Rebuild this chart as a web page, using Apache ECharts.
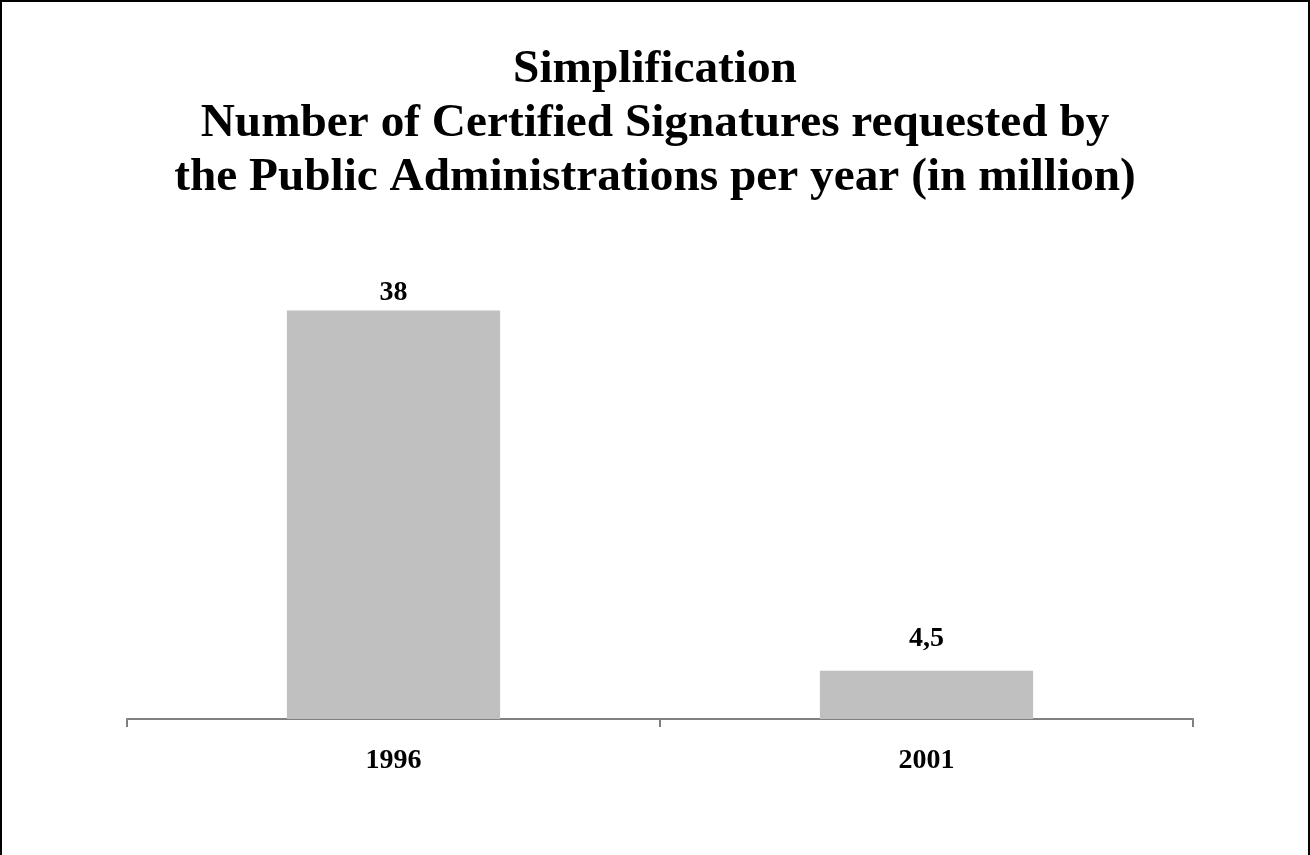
<!DOCTYPE html>
<html>
<head>
<meta charset="utf-8">
<style>
  html, body { margin: 0; padding: 0; background: #fff; }
  #frame {
    position: absolute; left: 0; top: 0; width: 1310px; height: 855px;
    box-sizing: border-box; border: 2px solid #000; border-bottom: none;
  }
  #chart { position: absolute; left: 0; top: 0; width: 1310px; height: 855px; }
</style>
<script src="https://cdn.jsdelivr.net/npm/echarts@6/dist/echarts.min.js"></script>
</head>
<body>
<div id="chart"></div>
<div id="frame"></div>
<script>
// Certified signatures requested by the public administrations (million per year)
const titleLines = [
  'Simplification',
  'Number of Certified Signatures requested by',
  'the Public Administrations per year (in million)'
];
const years = ['1996', '2001'];
const signatures = [38, 4.5];
const valueLabels = ['38', '4,5'];

// gap between each bar top and its value label
const labelGaps = [4, 18];

const serif = '"Liberation Serif", "Times New Roman", Times, serif';
const chart = echarts.init(document.getElementById('chart'), null, { renderer: 'canvas' });

const barData = signatures.map((v, i) => ({
  value: v,
  label: { distance: labelGaps[i] }
}));

chart.setOption({
  backgroundColor: '#ffffff',
  animation: false,
  title: {
    text: titleLines.join('\n'),
    left: 'center',
    top: 38,
    textStyle: {
      fontFamily: serif,
      fontWeight: 'bold',
      fontSize: 47.3,
      lineHeight: 54,
      color: '#000'
    }
  },
  grid: { left: 127, right: 117, top: 289, bottom: 136 },
  xAxis: {
    type: 'category',
    data: years,
    boundaryGap: true,
    axisLine: { lineStyle: { color: '#808080', width: 2 } },
    axisTick: { show: true, length: 8, lineStyle: { color: '#808080', width: 2 } },
    axisLabel: {
      margin: 28,
      fontFamily: serif,
      fontWeight: 'bold',
      fontSize: 28,
      color: '#000'
    }
  },
  yAxis: {
    type: 'value',
    min: 0,
    max: 40,
    show: false,
    splitLine: { show: false }
  },
  series: [{
    type: 'bar',
    data: barData,
    barWidth: '40%',
    itemStyle: { color: '#c0c0c0' },
    label: {
      show: true,
      position: 'top',
      formatter: p => valueLabels[p.dataIndex],
      fontFamily: serif,
      fontWeight: 'bold',
      fontSize: 28,
      color: '#000'
    }
  }]
});
</script>
</body>
</html>
